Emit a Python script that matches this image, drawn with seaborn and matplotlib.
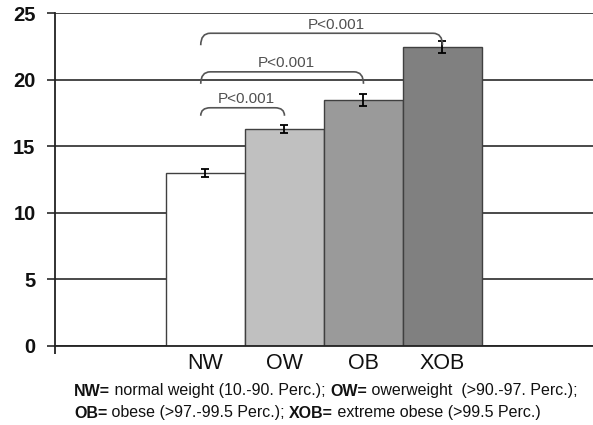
import matplotlib
matplotlib.use("Agg")
import matplotlib.pyplot as plt
from matplotlib.path import Path
from matplotlib.patches import PathPatch
import seaborn as sns
import pandas as pd

# Data
groups = ["NW", "OW", "OB", "XOB"]
means = [13.0, 16.3, 18.5, 22.45]
errors = [0.27, 0.27, 0.45, 0.44]
bar_colors = ["#ffffff", "#c0c0c0", "#9a9a9a", "#808080"]
y_ticks = [0, 5, 10, 15, 20, 25]

# Significance comparisons: (from group, to group, label)
comparisons = [
    (0, 1, "P<0.001"),
    (0, 2, "P<0.001"),
    (0, 3, "P<0.001"),
]
# Bracket geometry: (foot height, top height, label x shift)
bracket_geom = [
    (17.3, 17.9, 0.05),
    (19.7, 20.6, 0.05),
    (22.6, 23.5, 0.19),
]

caption_lines = [
    [("NW=", True), (" normal weight (10.-90. Perc.); ", False),
     ("OW=", True), (" owerweight  (>90.-97. Perc.);", False)],
    [("OB=", True), (" obese (>97.-99.5 Perc.); ", False),
     ("XOB=", True), (" extreme obese (>99.5 Perc.)", False)],
]

sns.set_theme(style="white")
plt.rcParams["font.family"] = ["Liberation Sans", "DejaVu Sans"]

fig = plt.figure(figsize=(5.93, 4.25), dpi=100)
ax = fig.add_axes([0.0927, 0.186, 0.9073, 0.7827])

df = pd.DataFrame({"group": groups, "value": means})
sns.barplot(data=df, x="group", y="value", hue="group", palette=bar_colors,
            order=groups, width=1.0, errorbar=None, legend=False,
            edgecolor="#404040", linewidth=1.0, saturation=1.0, ax=ax, zorder=2)

ax.errorbar(range(len(groups)), means, yerr=errors, fmt="none",
            ecolor="black", elinewidth=1.3, capsize=2.8, capthick=1.3, zorder=3)

# Axes, grid, ticks
ax.set_ylim(0, 25)
ax.set_xlim(-1.905, 4.905)
ax.set_yticks(y_ticks)
ax.set_yticklabels([str(v) for v in y_ticks], fontsize=14.5, fontweight="bold",
                   color="#111111")
ax.yaxis.grid(True, color="#3a3a3a", linewidth=1.3, zorder=0)
ax.xaxis.grid(False)
ax.set_axisbelow(True)
ax.tick_params(axis="y", direction="out", length=6, width=1.3,
               color="#3a3a3a", left=True, pad=8)
ax.set_xticks(range(len(groups)))
ax.set_xticklabels(groups, fontsize=15.5, color="#111111")
ax.tick_params(axis="x", which="major", length=0, pad=5)
ax.set_xticks([-1.905], minor=True)
ax.tick_params(axis="x", which="minor", direction="out", length=6, width=1.3,
               color="#222222", bottom=True)
ax.set_xlabel("")
ax.set_ylabel("")
for side in ("top", "right"):
    ax.spines[side].set_visible(False)
ax.spines["left"].set_color("#222222")
ax.spines["left"].set_linewidth(1.3)
ax.spines["bottom"].set_color("#222222")
ax.spines["bottom"].set_linewidth(1.3)

# Significance brackets with rounded corners
dx = 0.12
for (i0, i1, label), (yb, yt, shift) in zip(comparisons, bracket_geom):
    x0, x1 = i0 - 0.06, i1
    verts = [(x0, yb), (x0, yt), (x0 + dx, yt),
             (x1 - dx, yt),
             (x1, yt), (x1, yb)]
    codes = [Path.MOVETO, Path.CURVE3, Path.CURVE3,
             Path.LINETO,
             Path.CURVE3, Path.CURVE3]
    ax.add_patch(PathPatch(Path(verts, codes), facecolor="none",
                           edgecolor="#555555", linewidth=1.2, zorder=4))
    ax.text((x0 + x1) / 2 + shift, yt + 0.12, label, ha="center", va="bottom",
            fontsize=11, color="#505050", zorder=5)

# Caption with bold abbreviations
fig.canvas.draw()
renderer = fig.canvas.get_renderer()
W, H = fig.bbox.width, fig.bbox.height
line_y = [425 - 391, 425 - 413]
for parts, ypix in zip(caption_lines, line_y):
    xpix = 74
    for txt, bold in parts:
        t = fig.text(xpix / W, ypix / H, txt, ha="left", va="center",
                     fontsize=11.5, fontweight="bold" if bold else "normal",
                     color="#111111")
        xpix += t.get_window_extent(renderer=renderer).width

fig.savefig("out.png", dpi=100)
